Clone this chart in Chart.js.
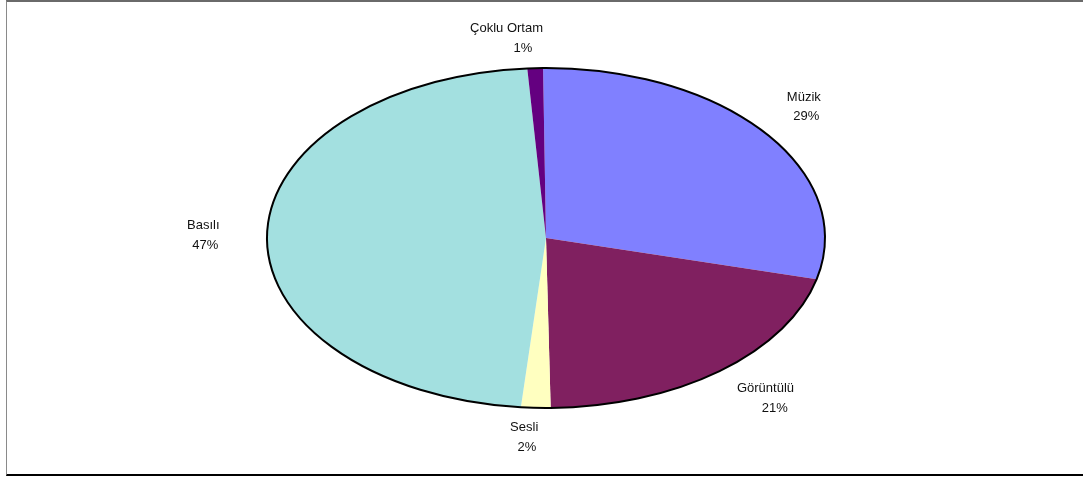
<!DOCTYPE html>
<html>
<head>
<meta charset="utf-8">
<script src="https://cdn.jsdelivr.net/npm/chart.js@4"></script>
<style>
  html, body { margin: 0; padding: 0; background: #fff; overflow: hidden; }
  #frame {
    position: absolute; left: 6px; top: 0; width: 1100px; height: 472px;
    border-left: 1px solid #8a8a8a; border-top: 2px solid #6a6a6a; border-bottom: 2px solid #000;
  }
  canvas { position: absolute; left: 0; top: 0; }
</style>
</head>
<body>
<div id="frame"></div>
<canvas id="pie" width="1083" height="478"></canvas>
<script>
const categories = ['Müzik', 'Görüntülü', 'Sesli', 'Basılı', 'Çoklu Ortam'];
const shares = [29.0, 20.8, 1.7, 47.4, 0.9];
const sliceColors = ['#8080ff', '#802060', '#ffffc0', '#a3e0e0', '#640080'];

// Excel-style pie is an ellipse: draw a circle and stretch it sideways
const radiusY = 170;
const stretchX = 279 / 170;

const clamp = (v) => Math.max(-1, Math.min(1, v));

const ellipsePlugin = {
  id: 'ellipse',
  beforeDatasetsDraw(chart) {
    const arc = chart.getDatasetMeta(0).data[0];
    const ctx = chart.ctx;
    ctx.save();
    ctx.translate(arc.x, arc.y);
    ctx.scale(stretchX, 1);
    ctx.translate(-arc.x, -arc.y);
  },
  afterDatasetsDraw(chart) {
    const ctx = chart.ctx;
    // outline path built in stretched space, stroked in normal space
    ctx.beginPath();
    chart.getDatasetMeta(0).data.forEach(a => {
      ctx.moveTo(a.x + a.outerRadius * Math.cos(a.startAngle), a.y + a.outerRadius * Math.sin(a.startAngle));
      ctx.arc(a.x, a.y, a.outerRadius, a.startAngle, a.endAngle);
    });
    ctx.restore();
    ctx.save();
    ctx.lineWidth = 2;
    ctx.strokeStyle = '#000';
    ctx.stroke();
    ctx.restore();
  }
};

const labelPlugin = {
  id: 'sliceLabels',
  afterDraw(chart) {
    const ctx = chart.ctx;
    const total = shares.reduce((s, v) => s + v, 0);
    const lineGap = 19.5;
    ctx.save();
    ctx.font = '13px "Liberation Sans", Arial, sans-serif';
    ctx.fillStyle = '#111';
    ctx.textBaseline = 'middle';
    ctx.textAlign = 'left';
    chart.getDatasetMeta(0).data.forEach((a, i) => {
      const mid = (a.startAngle + a.endAngle) / 2;
      const dx = Math.cos(mid), dy = Math.sin(mid);
      const px = a.x + 1.1 * a.outerRadius * stretchX * dx;
      const py = a.y + 1.06 * a.outerRadius * dy;
      const lines = [categories[i], Math.round(shares[i] / total * 100) + '%'];
      const maxW = Math.max(...lines.map(t => ctx.measureText(t).width));
      const boxW = maxW * 1.6, boxH = lineGap * 2;
      const bx = px + clamp(dx * 2.5) * boxW / 2;
      const by = py + clamp(dy * 2.5) * boxH / 2;
      lines.forEach((t, j) => {
        const w = ctx.measureText(t).width;
        ctx.fillText(t, bx - 0.8 * w, by + (j - 0.5) * lineGap);
      });
    });
    ctx.restore();
  }
};

new Chart(document.getElementById('pie').getContext('2d'), {
  type: 'pie',
  data: {
    labels: categories,
    datasets: [{
      data: shares,
      backgroundColor: sliceColors,
      borderWidth: 0
    }]
  },
  options: {
    responsive: false,
    animation: false,
    rotation: -0.6,
    radius: radiusY,
    layout: { padding: { top: 68, bottom: 70, left: 100, right: 91 } },
    plugins: {
      legend: { display: false },
      tooltip: { enabled: false }
    }
  },
  plugins: [ellipsePlugin, labelPlugin]
});
</script>
</body>
</html>
